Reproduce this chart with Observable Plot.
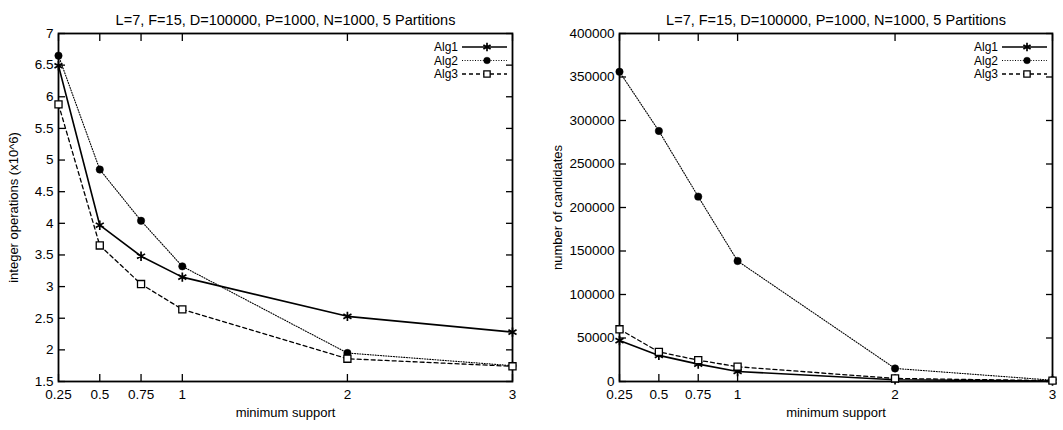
<!DOCTYPE html>
<html>
<head>
<meta charset="utf-8">
<script src="https://cdn.jsdelivr.net/npm/d3@7"></script>
<script src="https://cdn.jsdelivr.net/npm/@observablehq/plot@0.6"></script>
<style>
  body { margin: 0; background: #fff; }
  #wrap { display: flex; width: 1063px; height: 430px; }
  svg { overflow: visible; }
</style>
</head>
<body>
<div id="wrap"></div>
<script>
// ---- data ----
const title = "L=7, F=15, D=100000, P=1000, N=1000, 5 Partitions";
const xLabel = "minimum support";
const support = [0.25, 0.5, 0.75, 1, 2, 3];
const xTicks = [0.25, 0.5, 0.75, 1, 2, 3];
const xTickLabels = ["0.25", "0.5", "0.75", "1", "2", "3"];
const seriesNames = ["Alg1", "Alg2", "Alg3"];

// left panel: integer operations (x10^6)
const opsLabel = "integer operations (x10^6)";
const alg1Ops = [6.49, 3.97, 3.48, 3.15, 2.53, 2.28];
const alg2Ops = [6.65, 4.85, 4.04, 3.32, 1.95, 1.75];
const alg3Ops = [5.88, 3.65, 3.04, 2.64, 1.86, 1.74];
const opsTicks = [1.5, 2, 2.5, 3, 3.5, 4, 4.5, 5, 5.5, 6, 6.5, 7];
const opsTickLabels = ["1.5", "2", "2.5", "3", "3.5", "4", "4.5", "5", "5.5", "6", "6.5", "7"];

// right panel: number of candidates
const candLabel = "number of candidates";
const alg1Cand = [47000, 30000, 20000, 11500, 2000, 500];
const alg2Cand = [356000, 288000, 212500, 138500, 15000, 1500];
const alg3Cand = [60000, 34000, 24500, 17000, 3500, 1000];
const candTicks = [0, 50000, 100000, 150000, 200000, 250000, 300000, 350000, 400000];
const candTickLabels = ["0", "50000", "100000", "150000", "200000", "250000", "300000", "350000", "400000"];

// ---- styles per series ----
const styles = [
  {dash: null, width: 1.6, symbol: "asterisk", r: 4.4, fill: "none", sw: 1.7},
  {dash: "1,1.6", width: 1.1, symbol: "circle", r: 3.7, fill: "black", sw: 0.5},
  {dash: "4,3", width: 1.3, symbol: "square", r: 4, fill: "white", sw: 1.3}
];

const FONT = "'Liberation Sans', Arial, Helvetica, sans-serif";

function table(values) {
  return support.map((s, i) => ({x: s, y: values[i]}));
}

function panel({width, marginLeft, marginRight, series, yDomain, yTicks, yTickLabels, yLabel, yLabelDx}) {
  const marginTop = 33, marginBottom = 49, height = 430;
  const xfmt = d => xTickLabels[xTicks.indexOf(d)];
  const yfmt = d => yTickLabels[yTicks.indexOf(d)];
  const marks = [
    // inward ticks, all four sides
    Plot.axisX({ticks: xTicks, anchor: "bottom", tickSize: -7, tickFormat: () => "", label: null, strokeWidth: 1.3}),
    Plot.axisX({ticks: xTicks, anchor: "top", tickSize: -7, tickFormat: () => "", label: null, strokeWidth: 1.3}),
    Plot.axisY({ticks: yTicks, anchor: "left", tickSize: -7, tickFormat: () => "", label: null, strokeWidth: 1.3}),
    Plot.axisY({ticks: yTicks, anchor: "right", tickSize: -7, tickFormat: () => "", label: null, strokeWidth: 1.3}),
    // tick labels
    Plot.axisX({ticks: xTicks, anchor: "bottom", tickSize: 0, tickPadding: 8, tickFormat: xfmt, label: null, fontSize: 13.5}),
    Plot.axisY({ticks: yTicks, anchor: "left", tickSize: 0, tickPadding: 5, tickFormat: yfmt, label: null, fontSize: 13.5}),
    Plot.frame({stroke: "black", strokeWidth: 1.8}),
    // title and axis labels
    Plot.text([title], {frameAnchor: "top", dy: -19, fontSize: 14.5}),
    Plot.text([xLabel], {frameAnchor: "bottom", dy: 35, fontSize: 13}),
    Plot.text([yLabel], {frameAnchor: "left", textAnchor: "middle", dx: yLabelDx, rotate: -90, fontSize: 13})
  ];
  series.forEach((vals, i) => {
    const st = styles[i];
    marks.push(Plot.line(table(vals), {x: "x", y: "y", stroke: "black", strokeWidth: st.width, strokeDasharray: st.dash}));
  });
  series.forEach((vals, i) => {
    const st = styles[i];
    marks.push(Plot.dot(table(vals), {x: "x", y: "y", symbol: st.symbol, r: st.r, stroke: "black", fill: st.fill, strokeWidth: st.sw}));
  });
  const svg = Plot.plot({
    width, height, marginLeft, marginRight, marginTop, marginBottom,
    style: {fontFamily: FONT, fontSize: "13px", color: "black", background: "white"},
    x: {domain: [0.25, 3], axis: null},
    y: {domain: yDomain, axis: null},
    marks
  });
  // legend (inside the frame, top-right)
  const frameRight = width - marginRight;
  const g = d3.select(svg).append("g").attr("font-family", FONT).attr("font-size", 12);
  seriesNames.forEach((name, i) => {
    const st = styles[i];
    const y = marginTop + 14 + i * 13.5;
    g.append("text").attr("x", frameRight - 54).attr("y", y).attr("dy", "0.35em")
      .attr("text-anchor", "end").text(name);
    g.append("line").attr("x1", frameRight - 50).attr("x2", frameRight - 5)
      .attr("y1", y).attr("y2", y).attr("stroke", "black")
      .attr("stroke-width", st.width).attr("stroke-dasharray", st.dash);
    const symType = {asterisk: d3.symbolAsterisk, circle: d3.symbolCircle, square: d3.symbolSquare}[st.symbol];
    g.append("path").attr("d", d3.symbol(symType, Math.PI * st.r * st.r * 0.8)())
      .attr("transform", `translate(${frameRight - 25},${y})`)
      .attr("stroke", "black").attr("fill", st.fill).attr("stroke-width", st.sw);
  });
  return svg;
}

const wrap = document.getElementById("wrap");
wrap.appendChild(panel({
  width: 530, marginLeft: 58, marginRight: 18,
  series: [alg1Ops, alg2Ops, alg3Ops],
  yDomain: [1.5, 7], yTicks: opsTicks, yTickLabels: opsTickLabels,
  yLabel: opsLabel, yLabelDx: -45
}));
wrap.appendChild(panel({
  width: 533, marginLeft: 89, marginRight: 11,
  series: [alg1Cand, alg2Cand, alg3Cand],
  yDomain: [0, 400000], yTicks: candTicks, yTickLabels: candTickLabels,
  yLabel: candLabel, yLabelDx: -62
}));
</script>
</body>
</html>
